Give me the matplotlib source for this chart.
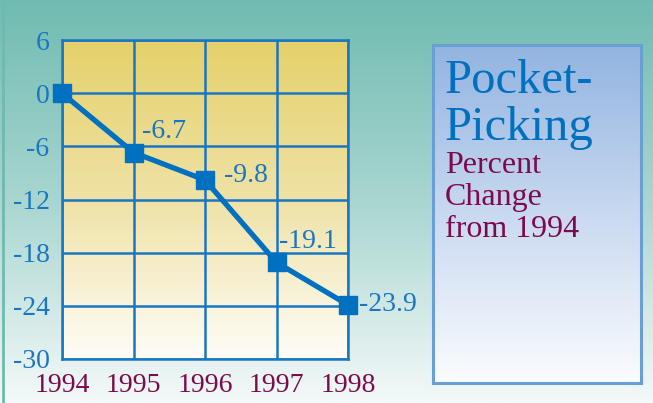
import numpy as np
import matplotlib.pyplot as plt
from matplotlib.colors import LinearSegmentedColormap

plt.rcParams['axes.unicode_minus'] = False

# Data
years = ['1994', '1995', '1996', '1997', '1998']
change = [0, -6.7, -9.8, -19.1, -23.9]
value_labels = ['', '-6.7', '-9.8', '-19.1', '-23.9']
label_offsets = [(0, 0), (6, 6), (14, 3), (2, 6), (8, 0)]
y_ticks = [6, 0, -6, -12, -18, -24, -30]

blue = '#1a76c2'
line_blue = '#0070c0'
maroon = '#7d0a4c'
serif = ['Liberation Serif', 'DejaVu Serif']

fig = plt.figure(figsize=(6.53, 4.03), dpi=100)

# figure background gradient (teal to near white)
bg = fig.add_axes([0, 0, 1, 1], zorder=0)
bg_cmap = LinearSegmentedColormap.from_list('bg', ['#70bbb1', '#a9d6d0', '#f4f9f9'])
bg.imshow(np.linspace(0, 1, 256).reshape(-1, 1), cmap=bg_cmap, aspect='auto',
          extent=[0, 1, 0, 1], origin='upper')
bg.plot([0.005, 0.005], [0, 0.99], color='#6fbab0', lw=2)
bg.set_xlim(0, 1)
bg.set_ylim(0, 1)
bg.axis('off')

# legend / title box
box = fig.add_axes([433 / 653, 1 - 383 / 403, 208 / 653, 338 / 403], zorder=1)
box_cmap = LinearSegmentedColormap.from_list('box', ['#92b4e0', '#c9d9f0', '#fbfcfe'])
box.imshow(np.linspace(0, 1, 256).reshape(-1, 1), cmap=box_cmap, aspect='auto',
           extent=[0, 1, 0, 1], origin='upper')
box.set_xticks([])
box.set_yticks([])
for s in box.spines.values():
    s.set_color('#6a9fd6')
    s.set_linewidth(2.2)

fig.text(445 / 653, 1 - 93 / 403, 'Pocket-', color=line_blue, fontsize=35,
         family=serif, va='baseline', ha='left', zorder=3)
fig.text(445 / 653, 1 - 140 / 403, 'Picking', color=line_blue, fontsize=35,
         family=serif, va='baseline', ha='left', zorder=3)
fig.text(445 / 653, 1 - 173 / 403, 'Percent', color=maroon, fontsize=23,
         family=serif, va='baseline', ha='left', zorder=3)
fig.text(445 / 653, 1 - 205 / 403, 'Change', color=maroon, fontsize=23,
         family=serif, va='baseline', ha='left', zorder=3)
fig.text(445 / 653, 1 - 237 / 403, 'from 1994', color=maroon, fontsize=23,
         family=serif, va='baseline', ha='left', zorder=3)

# main chart
ax = fig.add_axes([62 / 653, 1 - 359 / 403, 286 / 653, 319 / 403], zorder=2)
x = np.arange(len(years))
plot_cmap = LinearSegmentedColormap.from_list('plot', ['#e5d16a', '#efe2a6', '#fefdf8'])
ax.imshow(np.linspace(0, 1, 256).reshape(-1, 1), cmap=plot_cmap, aspect='auto',
          extent=[x[0], x[-1], y_ticks[-1], y_ticks[0]], origin='upper', zorder=0)

ax.set_xlim(x[0], x[-1])
ax.set_ylim(y_ticks[-1], y_ticks[0])
ax.set_xticks(x)
ax.set_xticklabels(years)
ax.set_yticks(y_ticks)
ax.grid(True, color=blue, lw=1.8, zorder=1)
ax.tick_params(length=0)
ax.tick_params(axis='x', pad=10, labelsize=20, labelcolor=maroon)
ax.tick_params(axis='y', pad=9, labelsize=20, labelcolor=blue)
for lab in ax.get_xticklabels() + ax.get_yticklabels():
    lab.set_family(serif)
for s in ax.spines.values():
    s.set_color(blue)
    s.set_linewidth(1.8)

for xi, yi, txt, off in zip(x, change, value_labels, label_offsets):
    if txt:
        ax.annotate(txt, (xi, yi), xytext=off, textcoords='offset points',
                    ha='left', va='bottom' if off[1] > 3 else 'center',
                    color=blue, fontsize=20, family=serif, zorder=0.5,
                    annotation_clip=False)

ax.plot(x, change, color=line_blue, lw=3.8, marker='s', markersize=13.5,
        zorder=4, clip_on=False)

fig.savefig('out.png', dpi=100)
